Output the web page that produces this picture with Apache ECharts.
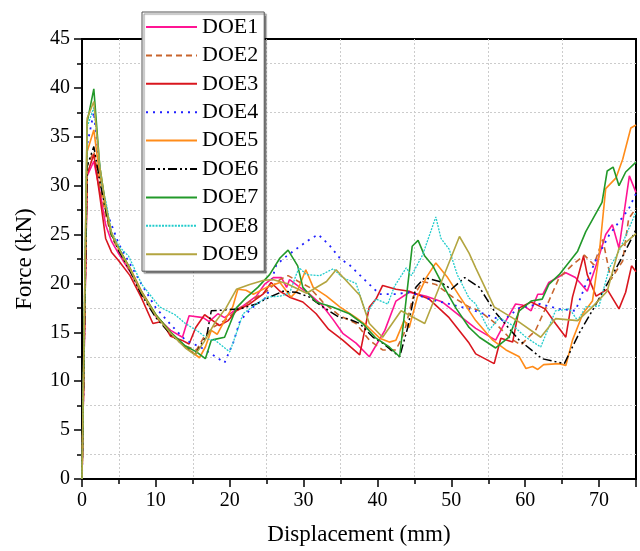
<!DOCTYPE html>
<html>
<head>
<meta charset="utf-8">
<script src="https://cdn.jsdelivr.net/npm/echarts@6/dist/echarts.min.js"></script>
<style>html,body{margin:0;padding:0;background:#fff}#c{width:640px;height:551px}</style>
</head>
<body>
<div id="c"></div>
<script>
const seriesNames = ['DOE1','DOE2','DOE3','DOE4','DOE5','DOE6','DOE7','DOE8','DOE9'];
const xTicks = [0,10,20,30,40,50,60,70];
const yTicks = [0,5,10,15,20,25,30,35,40,45];

const doe1 = [[0,0],[0.7,31],[1.6,32.5],[2.4,29.5],[3.2,26],[4,24.3],[5,23],[6.5,21.2],[8,19.2],[10,16.6],[12,15.2],[13.6,14.5],[14.5,16.7],[16.4,16.5],[17.2,16.1],[18.4,16.9],[19.3,16.5],[20.4,17.1],[21.8,17.7],[23.6,18.7],[24.7,19.9],[25.9,20.6],[27,20.6],[27.7,19.6],[28.1,20.4],[29.5,19.6],[30.8,18.9],[32.6,17.7],[34,16.3],[35.3,14.9],[37.1,13.9],[38.9,12.5],[41,15.2],[42.5,18.2],[44.3,19.1],[46.6,18.7],[48.8,18.1],[51.1,16.7],[53.3,15.4],[56,14.2],[57.4,16.2],[58.7,17.9],[59.6,17.8],[60.8,17.2],[61.7,18.9],[62.4,18.9],[63.2,20.1],[65.5,21.1],[66.8,20.6],[68.4,19.2],[69.5,21.6],[70.9,25],[71.8,26],[72.7,23.6],[74.1,31],[75,29.3]];
const doe2 = [[0,0],[0.7,32],[1.6,33.5],[2.4,30],[3.2,27],[4,24.8],[5,23.3],[6.5,21.3],[8,19],[10,16.6],[12,14.8],[14,13.6],[15.5,13.2],[16.5,14.5],[17.7,15.5],[19.3,16.2],[20.9,17.2],[23,18.3],[25,19.2],[26.8,20.4],[27.9,20.8],[29.3,20.2],[30.8,19.6],[32.6,18.1],[34.9,16.7],[37.1,15.9],[38.9,14.2],[40.7,13.2],[42.5,13.2],[43.6,14.9],[44.8,18.6],[46.1,20.2],[47.9,19.9],[50.2,18.6],[52.4,17.6],[53.8,17.2],[56,15.9],[57.8,14.5],[59.4,13.7],[61.4,15.2],[63.2,18.2],[64.6,20.6],[66.4,21.9],[68,22.9],[69.3,21.9],[70.5,24.5],[71.6,20.4],[73.2,22.3],[74,26.6],[75,27.7]];
const doe3 = [[0,0],[0.7,31.2],[1.6,33.2],[2.4,29],[3.2,24.6],[4,23.2],[5,22.3],[6.5,20.8],[8,18.6],[9.6,15.9],[10.8,16.1],[12,14.6],[13.5,14.2],[14.5,13.8],[15.4,15.5],[16.6,16.8],[17.7,16.2],[18.6,15.7],[19.8,16.2],[20.9,17.2],[22.7,17.9],[24.5,18.9],[25.6,20.1],[26.8,19.2],[28.1,18.6],[29.9,18.1],[31.7,16.9],[33.4,15.3],[35.3,14.2],[37.6,12.7],[38.9,17.6],[39.8,18.4],[40.7,19.8],[42.5,19.4],[44.3,19.2],[47,18.4],[49.7,16.5],[52.4,13.9],[53.3,12.8],[55.8,11.8],[56.7,14.4],[58.3,14],[59.2,17.5],[60.8,18.1],[62.7,17.4],[64.1,15.9],[65.5,14.5],[66.4,18.6],[67.9,22.8],[68.4,20.9],[69.6,18.7],[71.1,19.4],[72.7,17.4],[73.6,19.1],[74.4,21.8],[75,21.2]];
const doe4 = [[0,0],[0.7,34.2],[1.6,37.5],[2.5,31],[3.5,27],[5,24],[6.5,22],[8,20],[10,17.5],[12,15.8],[14,14.2],[16,13.5],[17.5,12.8],[19.3,11.9],[20.5,14],[21.4,16.2],[23,17.5],[25,18.6],[26.3,21.9],[27.7,22.8],[29.5,23.8],[31,24.6],[32,25],[33.5,23.9],[35,22.5],[36.2,21.9],[38.5,20.2],[40.3,18.9],[42.5,18.9],[44.3,19.1],[47,18.4],[49.7,17.9],[52.4,17.4],[54,17],[57,16.2],[59.2,17.5],[62,17.9],[64.6,17.4],[66.8,17.2],[68.2,19.9],[69.5,22.3],[71.4,25],[72.7,26.3],[74,27.6],[75,29.2]];
const doe5 = [[0,0],[0.7,33.5],[1.6,35.7],[2.4,31],[3.2,27.5],[4,25],[5,23.5],[6.5,21.6],[8,19.3],[10,16.8],[12,15],[14,13.5],[15.9,12.4],[16.7,13.5],[17.5,15.2],[18.3,14.8],[19.3,16.2],[20.4,17.6],[21.1,19.4],[22.2,19.3],[23.2,18.9],[25,19.6],[26.8,20.1],[28.3,18.6],[29.2,19.3],[30.3,21.4],[31.3,19.6],[33.1,18.7],[34.9,17.6],[37.1,16.5],[38.5,15.7],[40.3,14.4],[41.6,14],[42.5,14.2],[43.6,16.2],[44.3,15.5],[45.4,18.6],[46.6,20.6],[47.9,22.1],[49.5,20.6],[51.1,18.7],[53.3,16.2],[55.6,14.2],[57.4,13.2],[59.2,12.5],[60.1,11.3],[61,11.5],[61.7,11.2],[62.5,11.7],[64.6,11.8],[65.5,11.6],[66.4,14.2],[67.8,16.9],[69.1,18.2],[70,22.9],[70.9,29.7],[72.3,30.8],[73.2,32.7],[74.3,35.9],[75,36.2]];
const doe6 = [[0,0],[0.7,32],[1.6,34],[2.4,30.5],[3.2,27.5],[4,25],[5,23.3],[6.5,21.3],[8,18.9],[10,16.5],[12,14.8],[14,13.5],[15.3,12.7],[16.3,14],[16.9,14.7],[17.5,17.2],[19.5,17.3],[21.4,17.4],[23.6,17.9],[25.4,18.6],[27.2,19.2],[29,19.1],[30.8,18.6],[32.6,17.6],[34.9,16.5],[36,16.4],[37.6,15.9],[39.4,14.5],[40.7,13.9],[43,12.5],[44.1,15.5],[45.2,19.6],[46.4,20.6],[48.4,20.2],[50,19.4],[51.8,20.6],[53.8,19.6],[55.8,17.2],[56.9,16.2],[59.2,14.2],[62.3,12.3],[65.3,11.8],[67.3,14.9],[69.3,17.5],[71,19.8],[73,22.5],[75,25.5]];
const doe7 = [[0,0],[0.7,36.5],[1.6,39.9],[2.4,32],[3.2,28],[4,25],[5,23.6],[6.5,21.5],[8,19.2],[10,16.8],[12,15],[14,13.6],[15.5,13],[16.7,12.3],[17.5,14.2],[19.3,14.5],[20,15.8],[20.9,17.5],[22.3,18.6],[23.8,19.6],[25.4,20.9],[26.8,22.6],[27.9,23.4],[29.2,21.8],[29.9,19.6],[31.7,18.1],[33.9,17.6],[36.2,16.9],[38,15.9],[39.8,14.4],[41.6,13.5],[43,12.5],[44.7,23.8],[45.5,24.4],[46.4,22.8],[47.5,21.8],[48.8,19.9],[50.6,17.5],[52.4,15.5],[53.8,14.5],[56,13.4],[57.8,14.5],[59.2,17.2],[60.8,18.2],[62.3,18.4],[63.2,19.9],[64.6,20.9],[67.1,23.3],[68.2,25.3],[70.4,28.3],[71.1,31.5],[71.9,31.9],[72.7,30],[73.6,31.4],[75,32.4]];
const doe8 = [[0,0],[0.7,36],[1.6,38],[2.7,30],[3.2,28.5],[4,25.3],[5,23.8],[6.3,22.8],[8.1,19.9],[10.5,17.6],[12.6,16.8],[14,15.9],[15.7,15.1],[17.1,14.3],[18,14.2],[20,13],[20.9,14.9],[21.8,16.9],[23.4,17.8],[25,18.6],[26.8,18.7],[28.1,19],[29,20.9],[29.4,21.6],[30.4,20.9],[32.2,20.8],[34,21.5],[35.3,20.6],[37.1,20],[38.5,16.9],[39.8,18.4],[41.4,17.9],[42.3,19.7],[43.9,21.6],[44.6,20.8],[46.1,22.9],[47.9,26.8],[48.6,24.6],[49.7,23.5],[50.8,20.9],[52.4,18.5],[53.3,17.9],[55.1,15.2],[56.5,16.5],[58.3,15.7],[60.1,14.5],[62.1,13.5],[64.1,17.2],[66,17.4],[67.1,16.2],[68.2,17.6],[70,17.7],[71.4,21.6],[72.7,23.3],[75,27.3]];
const doe9 = [[0,0],[0.7,36.9],[1.6,38.6],[2.4,32],[3.2,28],[4,25.2],[5,23.5],[6.5,21.5],[8,19.2],[10,16.7],[12,14.9],[14,13.4],[15.3,12.7],[16.5,14],[18,16],[19.5,17.5],[20.9,19.4],[22.7,19.9],[24.5,20.3],[25.8,20.4],[27.7,20],[30.4,19],[33.1,20.2],[34.4,21.4],[37.6,18.8],[38.9,15.9],[40.7,14.5],[43.2,17.2],[46.4,15.9],[51.1,24.8],[52.4,23.1],[53.3,21.6],[55.8,17.6],[58.9,16.2],[62.1,14.5],[64.1,16.4],[67.1,16.2],[69.1,17.6],[71.1,19.2],[72.7,23.6],[75,25.1]];

const seriesData = [doe1,doe2,doe3,doe4,doe5,doe6,doe7,doe8,doe9];
const colors = ['#FF1493','#C8642D','#D9161E','#2020FF','#FF8C1A','#000000','#22992A','#22CCCC','#B3A540'];
const dashes = ['solid',[6,4],'solid',[2,5],'solid',[9,3,2,3,2,3],'solid',[2,1.2],'solid'];
const widths = [1.6,1.6,1.6,1.8,1.6,1.5,1.6,1.3,1.6];

const FONT = 'Liberation Serif';
const chart = echarts.init(document.getElementById('c'), null, {renderer:'canvas'});
chart.setOption({
  animation: false,
  backgroundColor: '#fff',
  grid: {left: 82, right: 4, top: 39, bottom: 67, show: true, borderColor: '#000', borderWidth: 2, backgroundColor: 'transparent'},
  legend: {
    orient: 'vertical', left: 142, top: 12,
    data: seriesNames,
    itemWidth: 51, itemHeight: 14, itemGap: 6.4,
    padding: [4, 6, 6, 3],
    backgroundColor: '#fff', borderColor: '#555', borderWidth: 1,
    shadowColor: 'rgba(0,0,0,0.45)', shadowOffsetX: 2, shadowOffsetY: 2, shadowBlur: 1,
    itemStyle: {opacity: 0},
    textStyle: {fontFamily: FONT, fontSize: 22, color: '#000', lineHeight: 22}
  },
  xAxis: {
    type: 'value', min: 0, max: 75, interval: 10,
    name: 'Displacement (mm)', nameLocation: 'middle', nameGap: 44,
    nameTextStyle: {fontFamily: FONT, fontSize: 23, color: '#000'},
    axisLine: {show: true, lineStyle: {color: '#000', width: 2}},
    axisTick: {show: true, inside: false, length: 8, lineStyle: {color: '#000', width: 1.5}},
    minorTick: {show: true, splitNumber: 2, length: 5, lineStyle: {color: '#000', width: 1.5}},
    splitLine: {show: false},
    minorSplitLine: {show: true, lineStyle: {color: '#cccccc', type: [2,2], width: 1}},
    axisLabel: {fontFamily: FONT, fontSize: 20, color: '#000', margin: 12, showMaxLabel: false,
      formatter: v => xTicks.indexOf(v) >= 0 ? String(v) : ''}
  },
  yAxis: {
    type: 'value', min: 0, max: 45, interval: 5,
    name: 'Force (kN)', nameLocation: 'middle', nameGap: 46,
    nameTextStyle: {fontFamily: FONT, fontSize: 23, color: '#000'},
    axisLine: {show: true, lineStyle: {color: '#000', width: 2}},
    axisTick: {show: true, inside: false, length: 8, lineStyle: {color: '#000', width: 1.5}},
    minorTick: {show: true, splitNumber: 2, length: 5, lineStyle: {color: '#000', width: 1.5}},
    splitLine: {show: false},
    minorSplitLine: {show: true, lineStyle: {color: '#cccccc', type: [2,2], width: 1}},
    axisLabel: {fontFamily: FONT, fontSize: 20, color: '#000', margin: 12,
      formatter: v => yTicks.indexOf(v) >= 0 ? String(v) : ''}
  },
  series: seriesNames.map((n, i) => ({
    name: n, type: 'line', data: seriesData[i], symbol: 'none', showSymbol: false,
    clip: true,
    lineStyle: {color: colors[i], width: widths[i], type: dashes[i]},
    itemStyle: {color: colors[i]},
    z: 2 + i
  }))
});
</script>
</body>
</html>
